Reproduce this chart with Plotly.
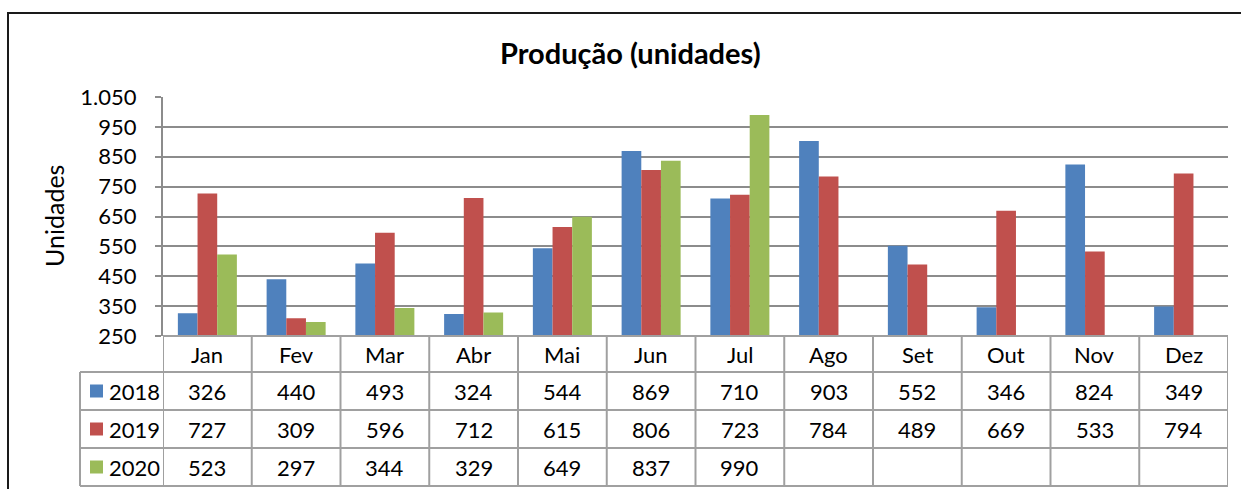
import plotly.graph_objects as go

months = ["Jan", "Fev", "Mar", "Abr", "Mai", "Jun", "Jul", "Ago", "Set", "Out", "Nov", "Dez"]
series_names = ["2018", "2019", "2020"]
v2018 = [326, 440, 493, 324, 544, 869, 710, 903, 552, 346, 824, 349]
v2019 = [727, 309, 596, 712, 615, 806, 723, 784, 489, 669, 533, 794]
v2020 = [523, 297, 344, 329, 649, 837, 990, None, None, None, None, None]
y_tickvals = [250, 350, 450, 550, 650, 750, 850, 950, 1050]
y_ticktext = ["250", "350", "450", "550", "650", "750", "850", "950", "1.050"]
title_text = "Produção (unidades)"
ytitle_text = "Unidades"

colors = ["#4F81BD", "#C0504D", "#9BBB59"]
FONT = "Lato"
FS = 22
W, H = 1241, 489
L, R, T, B = 163, 1228, 97, 336  # plot area pixel box
PW, PH = R - L, B - T
GRID = "#8c8c8c"
TLINE = "#a0a0a0"


def px(xpix):
    return (xpix - L) / PW


def py(ypix):
    return (B - ypix) / PH


all_values = [v2018, v2019, v2020]
fig = go.Figure()
for name, vals, col in zip(series_names, all_values, colors):
    fig.add_trace(go.Bar(
        x=list(range(len(months))), y=vals, name=name,
        marker=dict(color=col, line=dict(width=0)),
        showlegend=False,
    ))

shapes = []
annotations = []

# Table geometry (pixels)
row_edges = [336, 372, 410, 448, 486]
leg_left = 80

# horizontal lines
for i, ye in enumerate(row_edges):
    x0 = px(L) if i == 0 else px(leg_left)
    shapes.append(dict(type="line", xref="paper", yref="paper", x0=x0, x1=1, y0=py(ye), y1=py(ye),
                       line=dict(color=TLINE, width=2)))
# vertical lines between categories
for k in range(len(months) + 1):
    shapes.append(dict(type="line", xref="x", yref="paper", x0=k - 0.5, x1=k - 0.5,
                       y0=py(row_edges[0]), y1=py(row_edges[-1]), line=dict(color=TLINE, width=2)))
# legend column left edge
shapes.append(dict(type="line", xref="paper", yref="paper", x0=px(leg_left), x1=px(leg_left),
                   y0=py(row_edges[1]), y1=py(row_edges[-1]), line=dict(color=TLINE, width=2)))

# header (month) labels
hc = (row_edges[0] + row_edges[1]) / 2
for k, m in enumerate(months):
    annotations.append(dict(x=k, y=py(hc), xref="x", yref="paper", text=m, showarrow=False,
                            xanchor="center", yanchor="middle",
                            font=dict(family=FONT, size=FS, color="#000000")))

# value rows + legend keys
for r, (name, vals, col) in enumerate(zip(series_names, all_values, colors)):
    yc = (row_edges[r + 1] + row_edges[r + 2]) / 2
    for k, v in enumerate(vals):
        if v is None:
            continue
        annotations.append(dict(x=k, y=py(yc), xref="x", yref="paper", text=str(v), showarrow=False,
                                xanchor="center", yanchor="middle",
                                font=dict(family=FONT, size=FS, color="#000000")))
    shapes.append(dict(type="rect", xref="paper", yref="paper", x0=px(90), x1=px(103),
                       y0=py(yc - 6.5), y1=py(yc + 6.5), fillcolor=col, line=dict(width=0)))
    annotations.append(dict(x=px(107), y=py(yc), xref="paper", yref="paper", text=name, showarrow=False,
                            xanchor="left", yanchor="middle",
                            font=dict(family=FONT, size=FS, color="#000000")))

# y axis title
annotations.append(dict(x=px(54), y=py(216), xref="paper", yref="paper", text=ytitle_text,
                        textangle=-90, showarrow=False, xanchor="center", yanchor="middle",
                        font=dict(family=FONT, size=25, color="#000000")))

# chart title
annotations.append(dict(x=px(630), y=py(52), xref="paper", yref="paper", text="<b>" + title_text + "</b>",
                        showarrow=False, xanchor="center", yanchor="middle",
                        font=dict(family=FONT, size=29, color="#000000")))

# outer chart border
shapes.append(dict(type="rect", xref="paper", yref="paper", x0=px(8), x1=px(1250),
                   y0=py(13), y1=py(500), line=dict(color="#1a1a1a", width=2), fillcolor="rgba(0,0,0,0)"))

fig.update_layout(
    width=W, height=H,
    margin=dict(l=L, r=W - R, t=T, b=H - B, pad=0),
    paper_bgcolor="white", plot_bgcolor="white",
    barmode="group", bargap=0.335, bargroupgap=0,
    font=dict(family=FONT, size=FS, color="#000000"),
    shapes=shapes, annotations=annotations,
    xaxis=dict(range=[-0.5, len(months) - 0.5], showticklabels=False, showgrid=False,
               zeroline=False, showline=False, ticks="", fixedrange=True),
    yaxis=dict(range=[250, 1050], tickvals=y_tickvals, ticktext=y_ticktext,
               showgrid=True, gridcolor=GRID, gridwidth=2, zeroline=False,
               showline=True, linecolor=GRID, linewidth=2,
               ticks="outside", ticklen=6, tickcolor=GRID, tickwidth=2, ticklabelstandoff=14,
               tickfont=dict(family=FONT, size=FS, color="#000000"), fixedrange=True),
)

fig.write_html("out.html", config={"displayModeBar": False},
               post_script="document.body.style.margin='0';document.body.style.overflow='hidden';")
